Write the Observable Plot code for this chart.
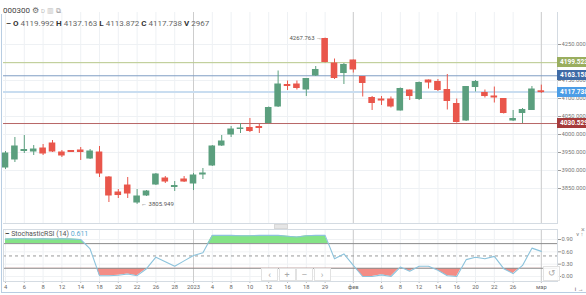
<!DOCTYPE html>
<html><head><meta charset="utf-8">
<script src="https://cdn.jsdelivr.net/npm/d3@7"></script>
<script src="https://cdn.jsdelivr.net/npm/@observablehq/plot@0.6"></script>
<style>
body{margin:0;background:#fff;font-family:Roboto,"Liberation Sans",sans-serif;}
#wrap{position:relative;width:586px;height:295px;overflow:hidden;background:#fff;}
#wrap svg{position:absolute;left:0;}
.ov{position:absolute;white-space:nowrap;}
.lvl{position:absolute;left:557px;width:40px;height:10px;line-height:10px;color:#fff;font-size:6.5px;font-weight:bold;padding-left:3px;box-sizing:border-box;}
.btn{position:absolute;top:268px;width:17px;height:13px;border:1px solid #e2e2e2;background:rgba(255,255,255,0.85);color:#aaa;font-size:9px;line-height:13px;text-align:center;box-sizing:border-box;}
</style></head><body><div id="wrap"></div>
<script>
const opens  = [3908.3,3930.6,3954.2,3952.8,3961.1,3975.0,3950.0,3954.2,3955.6,3933.3,3950.0,3880.6,3838.9,3858.3,3811.1,3830.6,3861.1,3877.8,3854.2,3875.0,3863.9,3888.9,3913.9,3969.4,4000.0,4015.3,4018.1,4020.8,4031.9,4077.8,4137.5,4138.9,4125.0,4163.9,4265.3,4197.2,4170.8,4205.6,4159.7,4101.4,4097.2,4097.2,4066.7,4122.2,4098.6,4150.0,4145.8,4123.6,4084.7,4038.9,4131.9,4115.3,4105.6,4098.6,4038.9,4059.7,4068.1,4119.992];
const highs  = [3952.8,3991.7,3997.2,3969.4,3972.2,3983.3,3955.6,3955.6,3963.9,3958.3,3966.7,3883.3,3847.2,3880.6,3847.2,3844.4,3891.7,3883.3,3869.4,3883.3,3891.7,3905.6,3969.4,3997.2,4022.2,4030.6,4044.4,4027.8,4076.4,4176.4,4148.6,4148.6,4155.6,4188.9,4267.763,4209.7,4197.2,4206.9,4159.7,4105.6,4105.6,4104.2,4129.2,4123.6,4145.8,4151.4,4152.8,4166.7,4098.6,4133.3,4150.0,4123.6,4131.9,4100.0,4066.7,4072.2,4133.3,4137.163];
const lows   = [3902.8,3922.2,3947.2,3941.7,3941.7,3950.0,3936.1,3950.0,3927.8,3930.6,3880.6,3811.1,3822.2,3822.2,3805.949,3827.8,3858.3,3863.9,3841.7,3866.7,3844.4,3875.0,3911.1,3966.7,3991.7,4002.8,4005.6,4002.8,4029.2,4075.0,4122.2,4123.6,4105.6,4161.1,4198.6,4152.8,4138.9,4170.8,4104.2,4066.7,4080.6,4073.6,4065.3,4094.4,4094.4,4126.4,4119.4,4068.1,4031.9,4036.1,4118.1,4101.4,4087.5,4056.9,4036.1,4030.5,4066.7,4113.872];
const closes = [3947.2,3966.7,3956.9,3958.3,3947.2,3952.8,3941.7,3951.4,3951.4,3952.8,3891.7,3830.6,3831.9,3836.1,3827.8,3841.7,3888.9,3869.4,3856.9,3869.4,3886.1,3891.7,3966.7,3980.6,4013.9,4016.7,4009.7,4018.1,4073.6,4138.9,4134.7,4129.2,4154.2,4179.2,4201.4,4156.9,4193.1,4180.6,4143.1,4087.5,4094.4,4077.8,4126.4,4106.9,4143.1,4144.4,4123.6,4093.1,4034.7,4131.9,4145.8,4106.9,4102.8,4059.7,4043.1,4068.1,4125.0,4117.738];
const stochRSI = [0.91,0.92,0.92,0.91,0.92,0.91,0.92,0.91,0.90,0.67,0.02,0.02,0.03,0.06,0.02,0.19,0.47,0.36,0.25,0.38,0.51,0.58,1.0,1.0,1.0,0.99,0.99,1.0,1.0,1.0,0.98,0.96,0.99,1.0,1.0,0.43,0.55,0.27,0.0,0.0,0.04,0.0,0.23,0.13,0.25,0.25,0.15,0.02,0.0,0.41,0.47,0.43,0.49,0.19,0.07,0.27,0.69,0.611];
const tickIndex  = [0,2,4,6,8,10,12,14,16,18,20,22,24,26,28,30,32,34,37,40,42,44,46,48,50,52,54,57];
const tickLabels = ["4","6","8","12","14","18","20","22","26","28","2023","4","8","10","12","16","18","29","фев","6","8","12","14","16","20","22","26","мар"];
const periodStarts = [20,37,57];
const priceTicks = [3850,3900,3950,4000,4050,4100,4150,4200,4250];
const levelValues = [4199.523,4163.158,4117.738,4030.529];
const rsiTicks = [0,0.3,0.6,0.9];
const rsiBands = [0.2,0.8];
const rsiMid = [0.5];
const lastRSI = 0.611;
const ohlcv = {O:4119.992,H:4137.163,L:4113.872,C:4117.738,V:2967};

const GREEN="#5b9f7e", RED="#e9564b";
const levelLine=["#b9c98c","#7f9dc4","#c9ddf0","#b76666"];
const levelBox=["#9aae5f","#3f6ba6","#4c9de6","#a63b3b"];
const levelWidth=[1,1,2,1];
const FONT='Roboto,"Liberation Sans",sans-serif';

const candles = opens.map((o,i)=>({i,o,h:highs[i],l:lows[i],c:closes[i],col:closes[i]>=o?GREEN:RED}));
const rsi = stochRSI.map((v,i)=>({i,v}));
const labelOf = new Map(tickIndex.map((t,k)=>[t,tickLabels[k]]));
const levels = levelValues.map((v,k)=>({v,k}));
const XD=[-0.213,58.72];
const hiIdx = highs.indexOf(d3.max(highs)), loIdx = lows.indexOf(d3.min(lows));

const wrap=document.getElementById("wrap");

const main = Plot.plot({
  width:586,height:224,marginLeft:3,marginRight:29,marginTop:12,marginBottom:1,
  x:{type:"linear",domain:XD,axis:null},
  y:{domain:[3752.8,4338.9],axis:null},
  style:{fontFamily:FONT,fontSize:"5.8px",color:"#777",background:"transparent"},
  marks:[
    Plot.ruleX(tickIndex,{stroke:"#eef1f4"}),
    Plot.ruleY(priceTicks,{stroke:"#eef1f4"}),
    Plot.ruleX(periodStarts,{stroke:"#cdcdcd"}),
    Plot.ruleY(levels,{y:"v",stroke:d=>levelLine[d.k],strokeWidth:d=>levelWidth[d.k]}),
    Plot.ruleX(candles,{x:"i",y1:"l",y2:"h",stroke:"col",strokeWidth:1}),
    Plot.rect(candles,{x1:d=>d.i-0.35,x2:d=>d.i+0.35,y1:"o",y2:"c",fill:"col",insetTop:-0.5,insetBottom:-0.5}),
    Plot.text([hiIdx],{x:d=>d,y:d=>highs[d],text:d=>highs[d].toFixed(3)+" →",textAnchor:"end",dx:-3,fill:"#555",fontSize:6}),
    Plot.text([loIdx],{x:d=>d,y:d=>lows[d],text:d=>"← "+lows[d].toFixed(3),textAnchor:"start",dx:4,fill:"#555",fontSize:6}),
    Plot.axisY(priceTicks,{anchor:"right",tickFormat:d=>d.toFixed(3),tickSize:3,tickPadding:1,stroke:"#999",fill:"#777"}),
    Plot.frame({anchor:"right",stroke:"#d4dbe2"}),
    Plot.frame({anchor:"bottom",stroke:"#d4dbe2"})
  ]
});
main.style.top="0px";
wrap.appendChild(main);

const rsiPlot = Plot.plot({
  width:586,height:65,marginLeft:3,marginRight:29,marginTop:1,marginBottom:12,
  x:{type:"linear",domain:XD,axis:null},
  y:{domain:[-0.1217,1.1436],axis:null},
  style:{fontFamily:FONT,fontSize:"5.8px",color:"#777",background:"transparent"},
  marks:[
    Plot.ruleX(tickIndex,{stroke:"#eef1f4"}),
    Plot.ruleY(rsiTicks,{stroke:"#f0f2f4"}),
    Plot.ruleX(periodStarts,{stroke:"#cdcdcd"}),
    Plot.areaY(rsi,{x:"i",y1:rsiBands[1],y2:"v",fill:"#84e386",ariaDescription:"greenfill"}),
    Plot.areaY(rsi,{x:"i",y1:rsiBands[0],y2:"v",fill:"#f38d86",ariaDescription:"redfill"}),
    Plot.ruleY(rsiBands,{stroke:"#8c8c8c"}),
    Plot.ruleY(rsiMid,{stroke:"#999",strokeDasharray:"3,3"}),
    Plot.line(rsi,{x:"i",y:"v",stroke:"#8cc3dc",strokeWidth:1.1}),
    Plot.axisY(rsiTicks,{anchor:"right",tickFormat:d=>d.toFixed(2),tickSize:3,tickPadding:1,stroke:"#999",fill:"#777"}),
    Plot.axisX(tickIndex,{anchor:"bottom",tickFormat:d=>labelOf.get(d),tickSize:2,tickPadding:1,stroke:"#bbb",fill:"#666"}),
    Plot.frame({stroke:"#d4dbe2"})
  ]
});
rsiPlot.style.top="228px";
wrap.appendChild(rsiPlot);

(function(){
  const sy=rsiPlot.scale("y");
  const f = sy.apply? (v)=>sy.apply(v) : d3.scaleLinear(sy.domain,sy.range);
  const NS="http://www.w3.org/2000/svg";
  const defs=document.createElementNS(NS,"defs");
  function cp(id,y,h){const c=document.createElementNS(NS,"clipPath");c.setAttribute("id",id);const r=document.createElementNS(NS,"rect");r.setAttribute("x",0);r.setAttribute("y",y);r.setAttribute("width",586);r.setAttribute("height",h);c.appendChild(r);defs.appendChild(c);}
  const yHi=f(rsiBands[1]), yLo=f(rsiBands[0]);
  cp("clipHi",0,yHi);
  cp("clipLo",yLo,65-yLo);
  rsiPlot.appendChild(defs);
  rsiPlot.querySelectorAll('[aria-description="greenfill"]').forEach(g=>g.setAttribute("clip-path","url(#clipHi)"));
  rsiPlot.querySelectorAll('[aria-description="redfill"]').forEach(g=>g.setAttribute("clip-path","url(#clipLo)"));
})();

(function(){
  const sy=main.scale("y");
  const f = sy.apply? (v)=>sy.apply(v) : d3.scaleLinear(sy.domain,sy.range);
  levels.forEach(d=>{
    const el=document.createElement("div");
    el.className="lvl";
    el.style.top=(f(d.v)-5)+"px";
    el.style.background=levelBox[d.k];
    el.textContent=d.v.toFixed(3);
    wrap.appendChild(el);
  });
})();

function addOv(html,css){const el=document.createElement("div");el.className="ov";el.innerHTML=html;Object.assign(el.style,css);wrap.appendChild(el);return el;}
addOv('000300 <span style="color:#666;font-size:8px">⚙</span> <span style="color:#bbb;font-size:6px">D</span> <span style="color:#bbb;font-size:7px">▥</span> <span style="color:#999;font-size:7px">⧉</span>',{left:"3px",top:"6px",fontSize:"8px",lineHeight:"10px",color:"#444"});
addOv(`<b style="color:#333">–</b> <b style="color:#333">O</b> ${ohlcv.O.toFixed(3)} <b style="color:#333">H</b> ${ohlcv.H.toFixed(3)} <b style="color:#333">L</b> ${ohlcv.L.toFixed(3)} <b style="color:#333">C</b> ${ohlcv.C.toFixed(3)} <b style="color:#333">V</b> ${ohlcv.V}`,{left:"6px",top:"19px",fontSize:"8px",lineHeight:"10px",color:"#666"});
addOv(`<b style="color:#333">–</b> StochasticRSI (14) <span style="color:#5aa9d0">${lastRSI.toFixed(3)}</span>`,{left:"5px",top:"230px",fontSize:"7px",lineHeight:"8px",color:"#555"});
["‹","+","–","›"].forEach((g,k)=>{const b=document.createElement("div");b.className="btn";b.style.left=(261+k*17.5)+"px";b.textContent=g;wrap.appendChild(b);});
const rb=document.createElement("div");rb.className="btn";rb.style.left="543px";rb.style.top="266px";rb.style.height="15px";rb.textContent="↺";wrap.appendChild(rb);
addOv("×",{left:"581px",top:"227px",fontSize:"7px",lineHeight:"7px",color:"#999"});
addOv("",{left:"274px",top:"224px",width:"12px",height:"3px",background:"#e6e6e6",border:"1px solid #d8d8d8"});
addOv("",{left:"1px",top:"14px",width:"1px",height:"279px",background:"#b8cde2"});
addOv("",{left:"1px",top:"292px",width:"585px",height:"1px",background:"#b8cde2"});
</script></body></html>
